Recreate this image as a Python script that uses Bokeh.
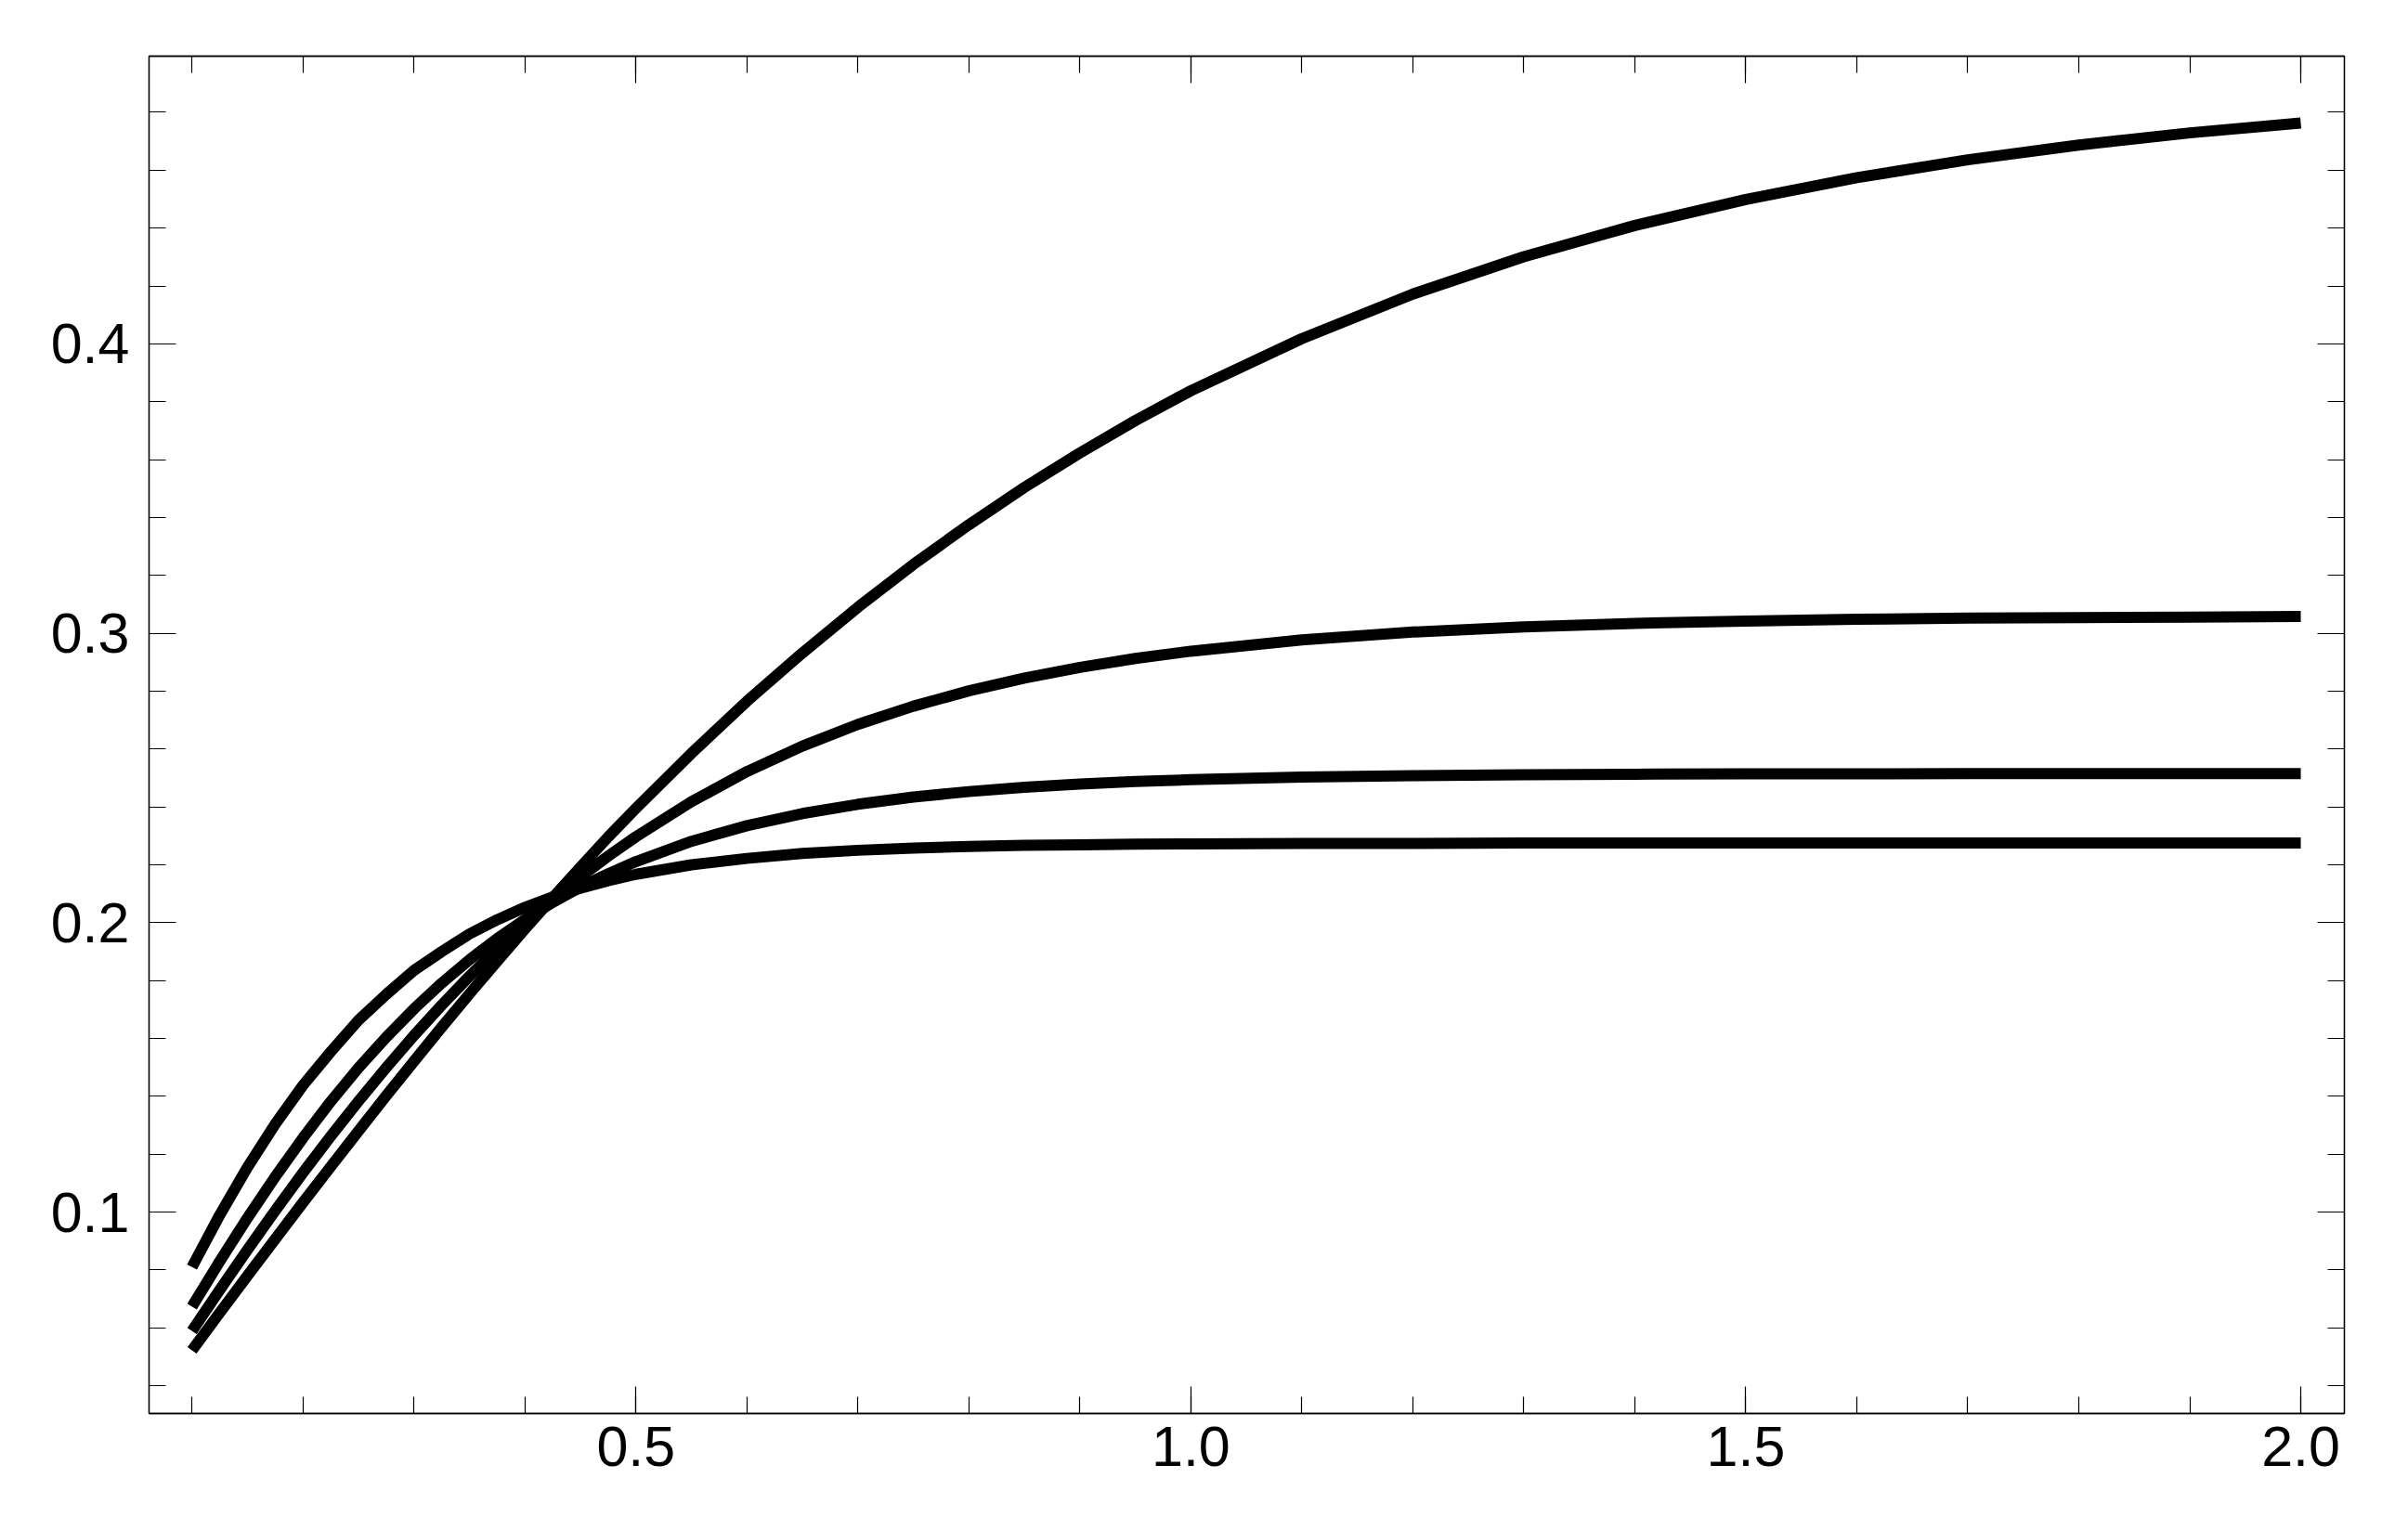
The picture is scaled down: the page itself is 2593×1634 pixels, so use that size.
from bokeh.plotting import figure
from bokeh.models import Range1d, LinearAxis, SingleIntervalTicker, PrintfTickFormatter
from bokeh.embed import file_html
from bokeh.resources import INLINE

# x positions at which the four curves were read
x_values = [0.1, 0.125, 0.15, 0.175, 0.2, 0.225, 0.25, 0.275, 0.3, 0.325, 0.35, 0.375,
            0.4, 0.425, 0.45, 0.475, 0.5, 0.55, 0.6, 0.65, 0.7, 0.75, 0.8, 0.85, 0.9, 0.95,
            1.0, 1.1, 1.2, 1.3, 1.4, 1.5, 1.6, 1.7, 1.8, 1.9, 2.0]

# highest plateau (~0.48)
curve_a = [0.0522, 0.0652, 0.0780, 0.0907, 0.1033, 0.1157, 0.1280, 0.1402, 0.1521, 0.1639,
           0.1754, 0.1867, 0.1978, 0.2086, 0.2192, 0.2296, 0.2395, 0.2585, 0.2765, 0.2932,
           0.3090, 0.3238, 0.3375, 0.3504, 0.3623, 0.3735, 0.3838, 0.4018, 0.4172, 0.4301,
           0.4409, 0.4499, 0.4574, 0.4636, 0.4687, 0.4729, 0.4763]
# plateau ~0.306
curve_b = [0.0589, 0.0731, 0.0870, 0.1005, 0.1136, 0.1262, 0.1383, 0.1499, 0.1610, 0.1715,
           0.1815, 0.1908, 0.1996, 0.2080, 0.2158, 0.2230, 0.2297, 0.2418, 0.2522, 0.2610,
           0.2685, 0.2748, 0.2801, 0.2845, 0.2882, 0.2913, 0.2938, 0.2977, 0.3004, 0.3022,
           0.3034, 0.3042, 0.3048, 0.3052, 0.3054, 0.3056, 0.3058]
# plateau ~0.251
curve_c = [0.0673, 0.0830, 0.0980, 0.1122, 0.1256, 0.1382, 0.1498, 0.1604, 0.1702, 0.1791,
           0.1872, 0.1945, 0.2011, 0.2070, 0.2123, 0.2169, 0.2211, 0.2281, 0.2335, 0.2377,
           0.2409, 0.2434, 0.2453, 0.2468, 0.2479, 0.2488, 0.2494, 0.2503, 0.2508, 0.2511,
           0.2513, 0.2514, 0.2514, 0.2515, 0.2515, 0.2515, 0.2515]
# plateau ~0.227
curve_d = [0.0810, 0.0990, 0.1155, 0.1304, 0.1438, 0.1554, 0.1663, 0.1752, 0.1835, 0.1900,
           0.1961, 0.2010, 0.2053, 0.2089, 0.2119, 0.2145, 0.2167, 0.2200, 0.2222, 0.2239,
           0.2250, 0.2258, 0.2263, 0.2267, 0.2269, 0.2271, 0.2272, 0.2274, 0.2274, 0.2275,
           0.2275, 0.2275, 0.2275, 0.2275, 0.2275, 0.2275, 0.2275]

x_limits = (0.0613, 2.0393)
y_limits = (0.0304, 0.4994)

FONT = "Liberation Sans"
FSIZE = "61px"

p = figure(width=2578, height=1618, output_backend="svg", toolbar_location=None,
           x_range=Range1d(*x_limits), y_range=Range1d(*y_limits),
           min_border_left=160, min_border_right=54, min_border_top=60, min_border_bottom=96)
p.background_fill_color = "white"
p.border_fill_color = "white"
p.grid.visible = False
p.outline_line_color = "black"
p.outline_line_width = 1.3


def style_axis(ax, show_labels, standoff):
    ax.axis_line_color = "black"
    ax.axis_line_width = 1.3
    ax.major_tick_line_color = "black"
    ax.minor_tick_line_color = "black"
    ax.major_tick_line_width = 1.2
    ax.minor_tick_line_width = 1.2
    ax.major_tick_in = 29
    ax.major_tick_out = 0
    ax.minor_tick_in = 18
    ax.minor_tick_out = 0
    ax.major_label_standoff = standoff
    ax.major_label_text_font = FONT
    ax.formatter = PrintfTickFormatter(format="%.1f")
    if show_labels:
        ax.major_label_text_color = "black"
        ax.major_label_text_font_size = FSIZE
    else:
        # frame-only axis: ticks but no drawn labels
        ax.major_label_text_color = None
        ax.major_label_text_font_size = "1px"


xt = SingleIntervalTicker(interval=0.5, num_minor_ticks=5)
yt = SingleIntervalTicker(interval=0.1, num_minor_ticks=5)

p.xaxis.ticker = xt
p.yaxis.ticker = yt
for ax in p.xaxis:
    style_axis(ax, True, 14)
for ax in p.yaxis:
    style_axis(ax, True, 21)

top_axis = LinearAxis(ticker=SingleIntervalTicker(interval=0.5, num_minor_ticks=5))
style_axis(top_axis, False, 0)
p.add_layout(top_axis, "above")
right_axis = LinearAxis(ticker=SingleIntervalTicker(interval=0.1, num_minor_ticks=5))
style_axis(right_axis, False, 0)
p.add_layout(right_axis, "right")

for ys in (curve_a, curve_b, curve_c, curve_d):
    p.line(x_values, ys, line_color="black", line_width=12, line_cap="butt", line_join="round")

open("out.html", "w").write(file_html(p, INLINE))
